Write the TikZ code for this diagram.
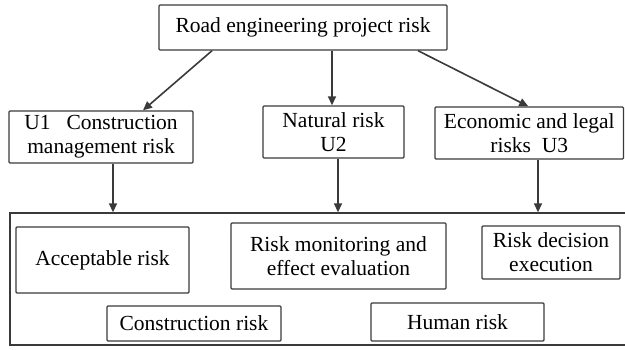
\documentclass[tikz,border=0pt]{standalone}
\usepackage{fontspec}
\setmainfont{Liberation Serif}
\usetikzlibrary{arrows.meta}
\definecolor{ln}{HTML}{3a3a3a}
\begin{document}
\begin{tikzpicture}[x=1pt,y=1pt,
  box/.style={draw=ln,line width=1.4pt,rounded corners=1pt,inner sep=0pt,align=center,
    font=\fontsize{21.5}{24}\selectfont},
  arr/.style={draw=ln,line width=1.6pt,-{Triangle[length=9pt,width=8pt]}}]
\useasboundingbox (0,0) rectangle (625,349);
\node[box,minimum width=288,minimum height=45] (top) at (303,321.5) {Road engineering project risk};
\node[box,minimum width=184,minimum height=52] (u1) at (101,212) {U1\ \ \ Construction\\management risk};
\node[box,minimum width=141,minimum height=52] (u2) at (333.5,217) {Natural risk\\U2};
\node[box,minimum width=188.5,minimum height=52] (u3) at (529.25,216) {Economic and legal\\risks\ \ U3};
\node[box,rounded corners=0pt,minimum width=630,minimum height=132] (frame) at (325,70) {};
\node[box,minimum width=173,minimum height=66] (acc) at (102.5,89) {Acceptable risk};
\node[box,minimum width=215,minimum height=66] (mon) at (338.5,93) {Risk monitoring and\\effect evaluation};
\node[box,minimum width=138,minimum height=53] (dec) at (551,96.5) {Risk decision\\execution};
\node[box,minimum width=174,minimum height=35] (con) at (194,25.5) {Construction risk};
\node[box,minimum width=173,minimum height=38] (hum) at (457.5,27) {Human risk};
\draw[arr] ([xshift=-91pt]top.south) -- ([xshift=42pt]u1.north);
\draw[arr] ([xshift=29pt]top.south) -- ([xshift=-1.5pt]u2.north);
\draw[arr] ([xshift=115pt]top.south) -- ([xshift=-1pt]u3.north);
\draw[arr] ([xshift=12pt]u1.south) -- ([xshift=12pt]u1.south |- frame.north);
\draw[arr] ([xshift=4.5pt]u2.south) -- ([xshift=4.5pt]u2.south |- frame.north);
\draw[arr] ([xshift=8.75pt]u3.south) -- ([xshift=8.75pt]u3.south |- frame.north);
\end{tikzpicture}
\end{document}
